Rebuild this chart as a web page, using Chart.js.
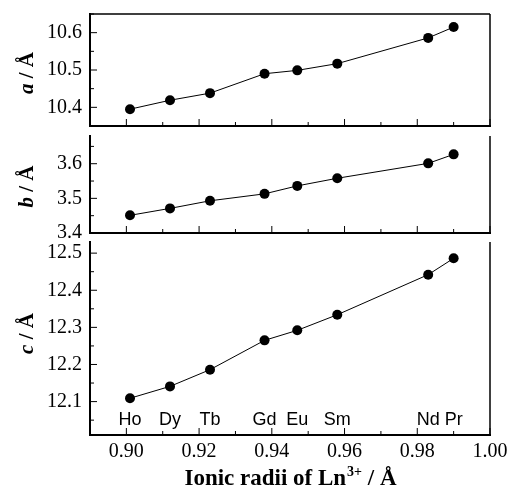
<!DOCTYPE html>
<html lang="en">
<head>
    <meta charset="UTF-8">
    <title>Lattice parameters vs ionic radius</title>
    <style>
        body {
            margin: 0;
            background: #fff;
        }

        .wrap {
            position: relative;
            width: 510px;
            height: 488px;
        }

        .wrap canvas {
            position: absolute;
            left: 0;
        }
    </style>
</head>
<body>
    <div class="wrap">
        <canvas id="chartA" width="510" height="140" style="top:0px"></canvas>
        <canvas id="chartB" width="510" height="125" style="top:120px"></canvas>
        <canvas id="chartC" width="510" height="262" style="top:226px"></canvas>
    </div>

    <script src="https://cdn.jsdelivr.net/npm/chart.js"></script>
    <script>
        // Data
        const elements = ['Ho', 'Dy', 'Tb', 'Gd', 'Eu', 'Sm', 'Nd', 'Pr'];
        const radii = [0.901, 0.912, 0.923, 0.938, 0.947, 0.958, 0.983, 0.990];
        const aValues = [10.395, 10.419, 10.438, 10.490, 10.499, 10.517, 10.586, 10.615];
        const bValues = [3.451, 3.471, 3.493, 3.513, 3.536, 3.558, 3.601, 3.627];
        const cValues = [12.109, 12.141, 12.186, 12.265, 12.292, 12.334, 12.442, 12.486];

        // Tick labels
        const xTicks = [0.90, 0.92, 0.94, 0.96, 0.98, 1.00];
        const aTicks = [10.4, 10.5, 10.6];
        const bTicks = [3.4, 3.5, 3.6];
        const cTicks = [12.1, 12.2, 12.3, 12.4, 12.5];

        const SERIF = '"Liberation Serif", "Times New Roman", serif';
        const SANS = '"Liberation Sans", Arial, sans-serif';

        // Draws the frame, inward tick marks, axis titles and element labels
        const panelDecor = {
            id: 'panelDecor',
            afterDraw(chart, args, opts) {
                const ctx = chart.ctx;
                const area = chart.chartArea;
                const x = chart.scales.x;
                const y = chart.scales.y;
                ctx.save();
                ctx.strokeStyle = '#000';
                ctx.fillStyle = '#000';

                // right edge, plus top edge for the first panel
                ctx.lineWidth = 1.5;
                ctx.beginPath();
                ctx.moveTo(area.right, area.top);
                ctx.lineTo(area.right, area.bottom);
                if (opts.topBorder) {
                    ctx.moveTo(area.left, area.top);
                    ctx.lineTo(area.right, area.top);
                }
                ctx.stroke();

                // x ticks pointing up
                ctx.lineWidth = 1;
                ctx.beginPath();
                xTicks.forEach((v, i) => {
                    const px = x.getPixelForValue(v);
                    ctx.moveTo(px, area.bottom);
                    ctx.lineTo(px, area.bottom - 7);
                    if (i < xTicks.length - 1) {
                        const mx = x.getPixelForValue((v + xTicks[i + 1]) / 2);
                        ctx.moveTo(mx, area.bottom);
                        ctx.lineTo(mx, area.bottom - 4);
                    }
                });

                // y ticks pointing right
                const yt = y.ticks.map(t => t.value);
                const step = yt[1] - yt[0];
                const minors = [yt[0] - step / 2, ...yt.map(v => v + step / 2)];
                yt.forEach(v => {
                    const py = y.getPixelForValue(v);
                    ctx.moveTo(area.left, py);
                    ctx.lineTo(area.left + 7, py);
                });
                minors.forEach(v => {
                    if (v <= y.min || v >= y.max) return;
                    const py = y.getPixelForValue(v);
                    ctx.moveTo(area.left, py);
                    ctx.lineTo(area.left + 4, py);
                });
                ctx.stroke();

                // rotated y title: italic letter + " / Å"
                const cy = (area.top + area.bottom) / 2 + (opts.titleShift || 0);
                ctx.save();
                ctx.translate(28, cy);
                ctx.rotate(-Math.PI / 2);
                ctx.textBaseline = 'middle';
                const f1 = 'italic bold 21px ' + SERIF;
                const f2 = 'bold 21px ' + SERIF;
                ctx.font = f1;
                const w1 = ctx.measureText(opts.letter).width;
                ctx.font = f2;
                const w2 = ctx.measureText(' / Å').width;
                let sx = -(w1 + w2) / 2;
                ctx.font = f1;
                ctx.fillText(opts.letter, sx, 0);
                ctx.font = f2;
                ctx.fillText(' / Å', sx + w1, 0);
                ctx.restore();

                if (opts.bottomPanel) {
                    // element labels
                    ctx.font = '18px ' + SANS;
                    ctx.textAlign = 'center';
                    ctx.textBaseline = 'alphabetic';
                    elements.forEach((el, i) => {
                        ctx.fillText(el, x.getPixelForValue(radii[i]), area.bottom - 10);
                    });

                    // x title with superscript
                    const big = 'bold 23px ' + SERIF;
                    const small = 'bold 14px ' + SERIF;
                    const p1 = 'Ionic radii of Ln', p2 = '3+', p3 = ' / Å';
                    ctx.textAlign = 'left';
                    ctx.font = big;
                    const t1 = ctx.measureText(p1).width;
                    const t3 = ctx.measureText(p3).width;
                    ctx.font = small;
                    const t2 = ctx.measureText(p2).width;
                    let tx = (area.left + area.right) / 2 - (t1 + t2 + t3) / 2;
                    const base = chart.height - 3;
                    ctx.font = big;
                    ctx.fillText(p1, tx, base);
                    ctx.font = small;
                    ctx.fillText(p2, tx + t1 + 1, base - 9);
                    ctx.font = big;
                    ctx.fillText(p3, tx + t1 + t2 + 1, base);
                }
                ctx.restore();
            }
        };

        function createPanel(id, values, yTickValues, yMin, yMax, areaTop, areaBottom, decor) {
            const canvas = document.getElementById(id);
            const H = canvas.height;
            const showX = !!decor.bottomPanel;
            new Chart(canvas, {
                type: 'scatter',
                data: {
                    datasets: [{
                        data: radii.map((r, i) => ({ x: r, y: values[i] })),
                        showLine: true,
                        borderColor: '#000',
                        borderWidth: 1,
                        pointRadius: 5,
                        pointBackgroundColor: '#000',
                        pointBorderColor: '#000',
                        pointBorderWidth: 0
                    }]
                },
                options: {
                    responsive: false,
                    animation: false,
                    layout: { padding: { top: areaTop, right: 20, left: 0, bottom: 0 } },
                    plugins: {
                        legend: { display: false },
                        tooltip: { enabled: false },
                        panelDecor: decor
                    },
                    scales: {
                        x: {
                            type: 'linear',
                            min: 0.89,
                            max: 1.00,
                            grid: { display: false, drawTicks: false },
                            border: { display: true, color: '#000', width: 2 },
                            ticks: {
                                display: showX,
                                color: '#000',
                                padding: 5,
                                font: { family: SERIF, size: 20 },
                                callback: v => v.toFixed(2)
                            },
                            afterBuildTicks: s => { s.ticks = xTicks.map(value => ({ value })); },
                            afterFit: s => {
                                s.height = H - areaBottom;
                                s.paddingLeft = 0;
                                s.paddingRight = 0;
                            }
                        },
                        y: {
                            type: 'linear',
                            min: yMin,
                            max: yMax,
                            grid: { display: false, drawTicks: false },
                            border: { display: true, color: '#000', width: 2 },
                            ticks: {
                                color: '#000',
                                padding: 8,
                                font: { family: SERIF, size: 20 },
                                callback: v => v.toFixed(1)
                            },
                            afterBuildTicks: s => { s.ticks = yTickValues.map(value => ({ value })); },
                            afterFit: s => {
                                s.width = 90;
                                s.paddingTop = 0;
                                s.paddingBottom = 0;
                            }
                        }
                    }
                },
                plugins: [panelDecor]
            });
        }

        createPanel('chartA', aValues, aTicks, 10.35, 10.65, 14, 126, { letter: 'a', topBorder: true, titleShift: 3 });
        createPanel('chartB', bValues, bTicks, 3.4, 3.68, 16, 113, { letter: 'b', titleShift: 2 });
        createPanel('chartC', cValues, cTicks, 12.01, 12.53, 16, 209, { letter: 'c', bottomPanel: true, titleShift: -5 });
    </script>
</body>
</html>
